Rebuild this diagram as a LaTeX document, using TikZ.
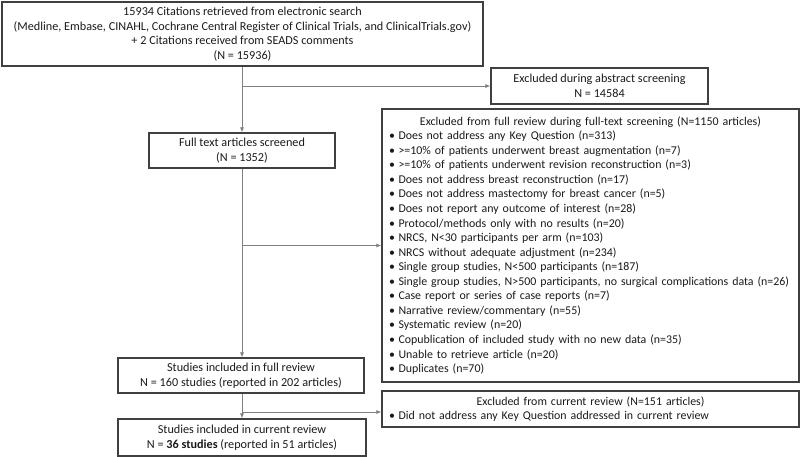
\documentclass[tikz,border=0pt]{standalone}
\usepackage{fontspec}
\setmainfont{Carlito}
\usetikzlibrary{arrows.meta,positioning}

\definecolor{boxline}{HTML}{404040}
\definecolor{arrline}{HTML}{808080}
\definecolor{txt}{HTML}{1A1A1A}

\newcommand{\itm}[1]{\par\noindent\makebox[9.5pt][l]{\textbullet}#1}

\begin{document}
\begin{tikzpicture}[x=1pt, y=-1pt,
box/.style={draw=boxline, line width=1.1pt, inner sep=0pt, align=center,
  text=txt, font=\fontsize{12.2}{14.6}\selectfont},
listbox/.style={box, minimum width=417pt, text width=403pt, inner xsep=7pt,
  align=left, font=\fontsize{11.9}{14.56}\selectfont},
arr/.style={draw=arrline, line width=0.8pt, -{Latex[length=5pt,width=4pt]}}]
\useasboundingbox (0,0) rectangle (800,457);

\node [box, minimum width=481pt, minimum height=64pt] (src) at (242.5,34)
{15934 Citations retrieved from electronic search\\
(Medline, Embase, CINAHL, Cochrane Central Register of Clinical Trials, and ClinicalTrials.gov)\\
+ 2 Citations received from SEADS comments\\
(N = 15936)};
\node [box, minimum width=217pt, minimum height=36pt] (exAbs) at (599.5,86)
{Excluded during abstract screening\\ N = 14584};
\node [box, minimum width=186pt, minimum height=35pt] (ft) at (242,150.5)
{Full text articles screened\\ (N = 1352)};
\node [listbox, minimum height=273pt] (exFull) at (590.5,245.5)
{\centering Excluded from full review during full-text screening (N=1150 articles)\par
\raggedright
\itm{Does not address any Key Question (n=313)}
\itm{>=10\% of patients underwent breast augmentation (n=7)}
\itm{>=10\% of patients underwent revision reconstruction (n=3)}
\itm{Does not address breast reconstruction (n=17)}
\itm{Does not address mastectomy for breast cancer (n=5)}
\itm{Does not report any outcome of interest (n=28)}
\itm{Protocol/methods only with no results (n=20)}
\itm{NRCS, N<30 participants per arm (n=103)}
\itm{NRCS without adequate adjustment (n=234)}
\itm{Single group studies, N<500 participants (n=187)}
\itm{Single group studies, N>500 participants, no surgical complications data (n=26)}
\itm{Case report or series of case reports (n=7)}
\itm{Narrative review/commentary (n=55)}
\itm{Systematic review (n=20)}
\itm{Copublication of included study with no new data (n=35)}
\itm{Unable to retrieve article (n=20)}
\itm{Duplicates (n=70)}};
\node [box, minimum width=246pt, minimum height=35pt] (fullrev) at (241,375.5)
{Studies included in full review\\ N = 160 studies (reported in 202 articles)};
\node [listbox, minimum height=36pt] (exCur) at (590.5,409)
{\centering Excluded from current review (N=151 articles)\par
\raggedright
\itm{Did not address any Key Question addressed in current review}};
\node [box, minimum width=248pt, minimum height=37pt] (currev) at (242,437.5)
{Studies included in current review\\ N = \textbf{36 studies} (reported in 51 articles)};

% connectors
\draw [arr] (src.south -| ft) -- (ft.north);
\draw [arr] (exAbs.west -| ft) -- (exAbs.west);
\draw [arr] (ft.south) -- (ft.south |- fullrev.north);
\draw [arr] (exFull.west -| ft) -- (exFull.west);
\draw [arr] (fullrev.south -| ft) -- (ft |- currev.north);
\draw [arr] ([yshift=-3pt]exCur.west -| ft) -- ([yshift=-3pt]exCur.west);

\end{tikzpicture}
\end{document}
